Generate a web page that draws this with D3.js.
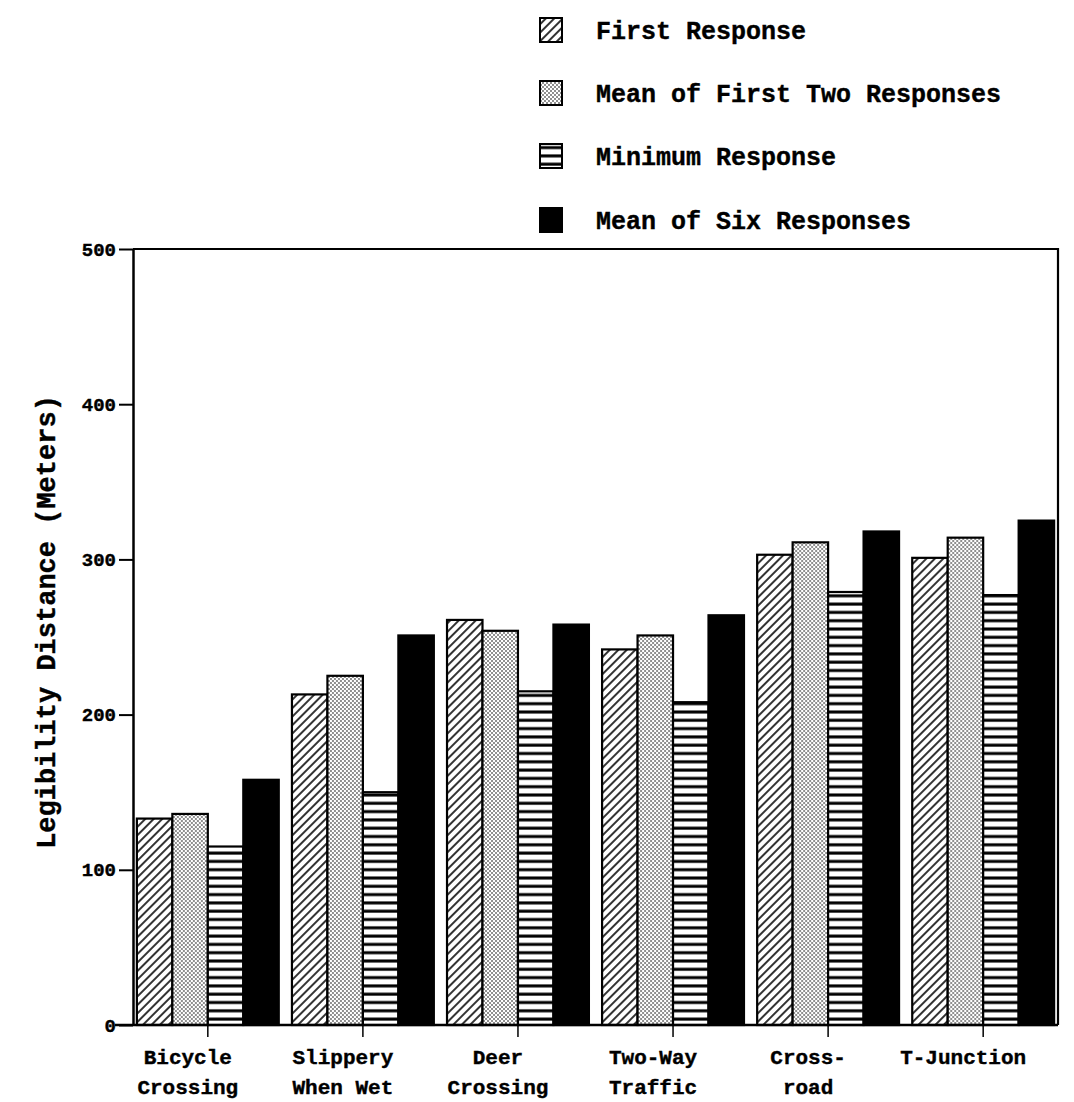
<!DOCTYPE html>
<html>
<head>
<meta charset="utf-8">
<script src="https://cdn.jsdelivr.net/npm/d3@7/dist/d3.min.js"></script>
<style>
  html, body { margin: 0; padding: 0; background: #fff; }
  svg { display: block; }
  text { font-family: "Courier New", "Liberation Mono", monospace; font-weight: bold; fill: #000; stroke: #000; stroke-width: 0.4px; }
</style>
</head>
<body>
<svg id="chart" width="1074" height="1102"></svg>
<script>
// Sign legibility distances by sign type and response measure
const categories = ["Bicycle Crossing", "Slippery When Wet", "Deer Crossing", "Two-Way Traffic", "Cross-road", "T-Junction"];
const categoryLines = [["Bicycle", "Crossing"], ["Slippery", "When Wet"], ["Deer", "Crossing"], ["Two-Way", "Traffic"], ["Cross-", "road"], ["T-Junction"]];
const seriesNames = ["First Response", "Mean of First Two Responses", "Minimum Response", "Mean of Six Responses"];
const firstResponse = [133, 213, 261, 242, 303, 301];
const meanFirstTwo = [136, 225, 254, 251, 311, 314];
const minimumResponse = [115, 150, 215, 208, 279, 277];
const meanSixResponses = [158, 251, 258, 264, 318, 325];
const yTicks = [0, 100, 200, 300, 400, 500];
const yTitle = "Legibility Distance (Meters)";

const seriesValues = [firstResponse, meanFirstTwo, minimumResponse, meanSixResponses];
const fills = ["url(#hatch)", "url(#dots)", "url(#hlines)", "#000"];

const svg = d3.select("#chart");

// fill patterns
const defs = svg.append("defs");
const hatch = defs.append("pattern").attr("id", "hatch")
  .attr("patternUnits", "userSpaceOnUse").attr("width", 6).attr("height", 6)
  .attr("patternTransform", "rotate(45)");
hatch.append("rect").attr("width", 6).attr("height", 6).attr("fill", "#fff");
hatch.append("line").attr("x1", 3).attr("y1", 0).attr("x2", 3).attr("y2", 6)
  .attr("stroke", "#000").attr("stroke-width", 1.6);

const dots = defs.append("pattern").attr("id", "dots")
  .attr("patternUnits", "userSpaceOnUse").attr("width", 4).attr("height", 4);
dots.append("rect").attr("width", 4).attr("height", 4).attr("fill", "#fff");
dots.append("circle").attr("cx", 1).attr("cy", 1).attr("r", 0.8).attr("fill", "#000");
dots.append("circle").attr("cx", 3).attr("cy", 3).attr("r", 0.8).attr("fill", "#000");

const hl = defs.append("pattern").attr("id", "hlines")
  .attr("patternUnits", "userSpaceOnUse").attr("width", 10).attr("height", 8.3);
hl.append("rect").attr("width", 10).attr("height", 8.3).attr("fill", "#fff");
hl.append("rect").attr("y", 5).attr("width", 10).attr("height", 3).attr("fill", "#000");

// scales
const plotLeft = 133, plotRight = 1058, plotTop = 249, plotBottom = 1025;
const y = d3.scaleLinear().domain([0, 500]).range([plotBottom, plotTop]);
const x0 = d3.scaleBand().domain(categories).range([plotLeft, plotRight])
  .paddingInner(0.085).paddingOuter(0.025);
const x1 = d3.scaleBand().domain(seriesNames).range([0, x0.bandwidth()]);

// bars
const groups = svg.append("g").selectAll("g")
  .data(categories).join("g")
  .attr("transform", d => `translate(${x0(d)},0)`);

groups.selectAll("rect")
  .data((c, i) => seriesNames.map((s, k) => ({ s, k, v: seriesValues[k][i] })))
  .join("rect")
  .attr("x", d => x1(d.s))
  .attr("y", d => y(d.v))
  .attr("width", x1.bandwidth())
  .attr("height", d => y(0) - y(d.v))
  .attr("fill", d => fills[d.k])
  .attr("stroke", "#000")
  .attr("stroke-width", 2.2);

// frame
svg.append("path")
  .attr("d", `M${plotLeft},${plotTop}H${plotRight}V${plotBottom}`)
  .attr("fill", "none").attr("stroke", "#000").attr("stroke-width", 2.2);

// y axis
const yAxis = svg.append("g").attr("transform", `translate(${plotLeft},0)`)
  .call(d3.axisLeft(y).tickValues(yTicks).tickSize(14).tickSizeOuter(0).tickPadding(3));
yAxis.select(".domain").attr("stroke-width", 2.5);
yAxis.selectAll(".tick line").attr("stroke-width", 2);
yAxis.selectAll(".tick text")
  .style("font-size", "19px").style("font-family", "'Courier New', 'Liberation Mono', monospace")
  .style("font-weight", "bold");

// x axis
const xAxis = svg.append("g").attr("transform", `translate(0,${plotBottom})`)
  .call(d3.axisBottom(x0).tickSize(12).tickSizeOuter(0).tickFormat(""));
xAxis.select(".domain").remove();
xAxis.selectAll(".tick line").attr("stroke-width", 1.5);
svg.append("line").attr("x1", 115).attr("x2", plotRight).attr("y1", plotBottom).attr("y2", plotBottom)
  .attr("stroke", "#000").attr("stroke-width", 2.5);

// category labels, two lines each, set a little left of the tick
const labels = svg.append("g");
categories.forEach((c, i) => {
  const cx = x0(c) + x0.bandwidth() / 2 - 20;
  const t = labels.append("text")
    .attr("x", cx)
    .attr("y", 1064)
    .attr("text-anchor", "middle")
    .style("font-size", "21px");
  categoryLines[i].forEach((ln, j) => {
    t.append("tspan").attr("x", cx)
      .attr("dy", j === 0 ? 0 : 30).text(ln);
  });
});

// y title
svg.append("text")
  .attr("transform", `translate(55,${(plotTop + plotBottom) / 2 - 15}) rotate(-90)`)
  .attr("text-anchor", "middle")
  .style("font-size", "27px")
  .text(yTitle);

// legend
const legend = svg.append("g");
const rowY = [39, 102, 165, 229];
seriesNames.forEach((s, k) => {
  legend.append("rect")
    .attr("x", 540).attr("y", rowY[k] - 21)
    .attr("width", 22).attr("height", 24)
    .attr("fill", fills[k]).attr("stroke", "#000").attr("stroke-width", 2);
  legend.append("text")
    .attr("x", 596).attr("y", rowY[k])
    .style("font-size", "25px")
    .text(s);
});
</script>
</body>
</html>
